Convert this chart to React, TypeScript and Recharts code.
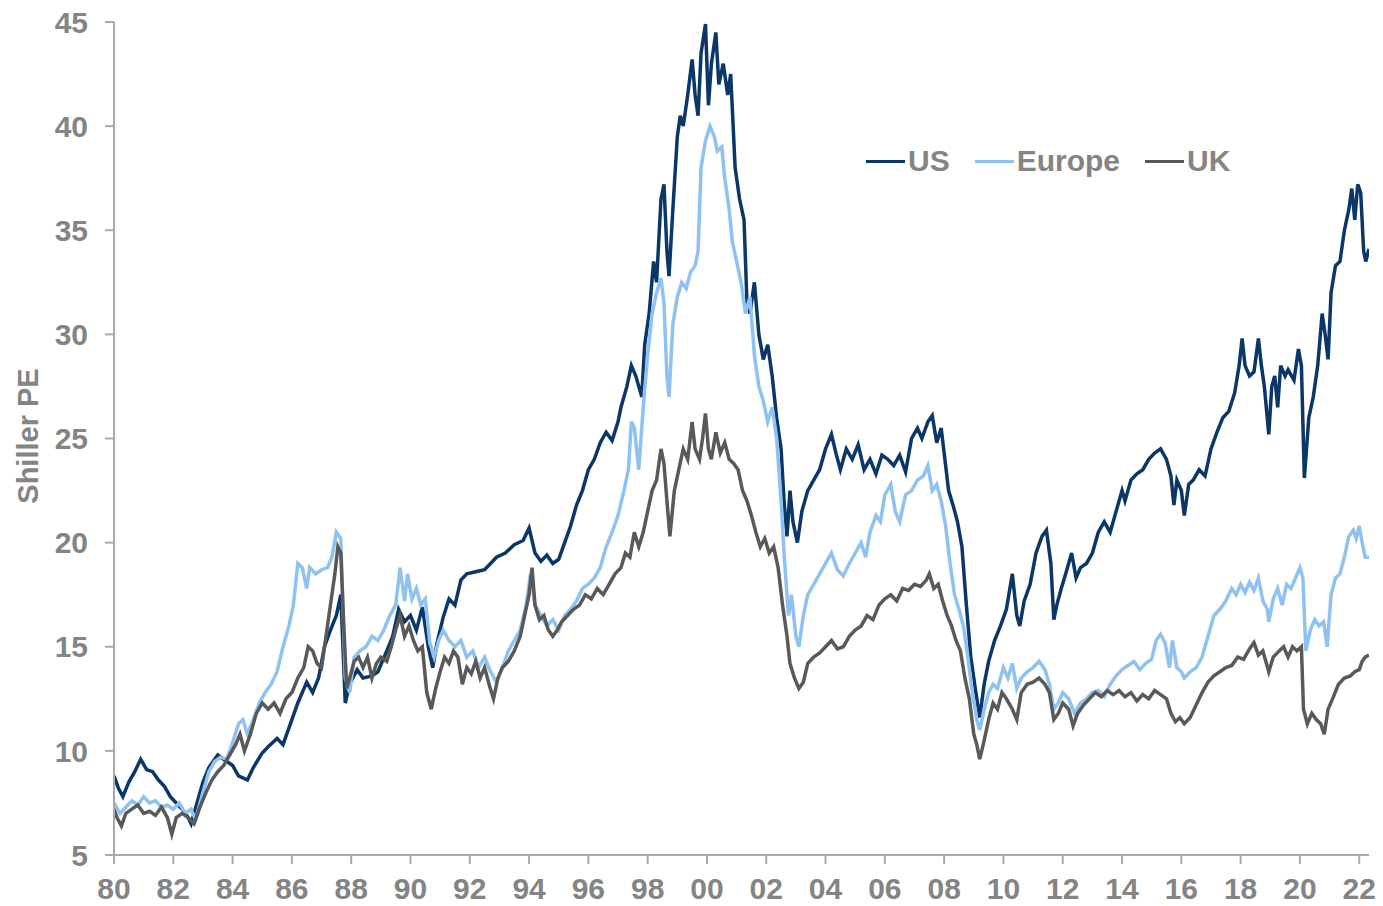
import { LineChart, Line, XAxis, YAxis, Legend } from 'recharts'

// Shiller PE, year (fractional) / value
const US: [number, number][] = [
  [1980.0, 8.8], [1980.15, 8.2], [1980.3, 7.8], [1980.5, 8.5], [1980.7, 9.0], [1980.9, 9.6], [1981.1, 9.1], [1981.3, 9.0],
  [1981.5, 8.6], [1981.7, 8.3], [1981.9, 7.8], [1982.1, 7.5], [1982.3, 7.2], [1982.5, 6.8], [1982.6, 6.5], [1982.8, 7.5],
  [1983.0, 8.5], [1983.2, 9.2], [1983.5, 9.8], [1983.7, 9.6], [1984.0, 9.3], [1984.2, 8.8], [1984.5, 8.6], [1984.7, 9.2],
  [1985.0, 9.9], [1985.2, 10.2], [1985.5, 10.6], [1985.7, 10.3], [1986.0, 11.5], [1986.2, 12.3], [1986.5, 13.3], [1986.7, 12.8],
  [1986.9, 13.5], [1987.1, 15.0], [1987.3, 15.8], [1987.5, 16.5], [1987.65, 17.5], [1987.8, 12.3], [1987.95, 13.2], [1988.2, 13.9],
  [1988.4, 13.5], [1988.7, 13.6], [1988.9, 13.8], [1989.2, 14.8], [1989.4, 15.5], [1989.6, 16.8], [1989.8, 16.2], [1990.0, 16.5],
  [1990.2, 15.8], [1990.4, 16.9], [1990.6, 15.0], [1990.75, 14.0], [1990.9, 15.2], [1991.1, 16.4], [1991.3, 17.3], [1991.5, 17.0],
  [1991.7, 18.2], [1991.9, 18.5], [1992.2, 18.6], [1992.5, 18.7], [1992.7, 19.0], [1992.9, 19.3], [1993.2, 19.5], [1993.5, 19.9],
  [1993.8, 20.1], [1994.0, 20.7], [1994.2, 19.5], [1994.4, 19.1], [1994.6, 19.4], [1994.8, 19.0], [1995.0, 19.2], [1995.2, 20.0],
  [1995.4, 20.8], [1995.6, 21.8], [1995.8, 22.5], [1996.0, 23.5], [1996.2, 24.0], [1996.4, 24.8], [1996.6, 25.3], [1996.8, 24.9],
  [1997.0, 25.8], [1997.1, 26.5], [1997.3, 27.5], [1997.45, 28.5], [1997.6, 28.0], [1997.8, 27.0], [1997.9, 29.5], [1998.05, 31.0],
  [1998.2, 33.5], [1998.3, 32.5], [1998.45, 36.5], [1998.55, 37.2], [1998.65, 34.0], [1998.72, 32.8], [1998.85, 36.0], [1999.0, 39.5],
  [1999.1, 40.5], [1999.2, 40.0], [1999.35, 41.5], [1999.5, 43.2], [1999.6, 41.5], [1999.7, 40.5], [1999.8, 43.5], [1999.95, 44.9],
  [2000.05, 41.0], [2000.15, 43.0], [2000.3, 44.5], [2000.4, 42.0], [2000.55, 43.0], [2000.7, 41.5], [2000.8, 42.5], [2000.95, 38.0],
  [2001.1, 36.5], [2001.25, 35.5], [2001.35, 31.5], [2001.45, 31.0], [2001.6, 32.5], [2001.75, 30.0], [2001.9, 28.8], [2002.05, 29.5],
  [2002.2, 28.0], [2002.35, 26.0], [2002.5, 24.5], [2002.6, 22.0], [2002.7, 20.3], [2002.8, 22.5], [2002.9, 21.0], [2003.05, 20.0],
  [2003.2, 21.5], [2003.4, 22.5], [2003.6, 23.0], [2003.8, 23.5], [2004.0, 24.5], [2004.2, 25.2], [2004.35, 24.3], [2004.5, 23.5],
  [2004.7, 24.5], [2004.9, 24.0], [2005.1, 24.7], [2005.3, 23.5], [2005.5, 24.0], [2005.7, 23.3], [2005.9, 24.2], [2006.1, 24.0],
  [2006.3, 23.7], [2006.5, 24.2], [2006.7, 23.4], [2006.9, 25.0], [2007.1, 25.5], [2007.25, 25.0], [2007.45, 25.8], [2007.6, 26.1],
  [2007.75, 24.8], [2007.9, 25.5], [2008.0, 24.3], [2008.15, 22.5], [2008.3, 21.8], [2008.45, 21.0], [2008.6, 19.8], [2008.75, 17.0],
  [2008.9, 14.5], [2009.05, 13.0], [2009.2, 11.6], [2009.35, 13.2], [2009.5, 14.3], [2009.7, 15.3], [2009.9, 16.0], [2010.1, 16.8],
  [2010.3, 18.5], [2010.45, 16.5], [2010.55, 16.0], [2010.7, 17.2], [2010.9, 18.0], [2011.1, 19.5], [2011.3, 20.3], [2011.45, 20.6],
  [2011.6, 19.0], [2011.7, 16.3], [2011.8, 17.0], [2011.95, 17.8], [2012.1, 18.5], [2012.3, 19.5], [2012.45, 18.3], [2012.6, 18.8],
  [2012.8, 19.0], [2013.0, 19.5], [2013.2, 20.5], [2013.4, 21.0], [2013.6, 20.5], [2013.8, 21.5], [2014.0, 22.5], [2014.1, 22.0],
  [2014.3, 23.0], [2014.5, 23.3], [2014.7, 23.5], [2014.9, 24.0], [2015.1, 24.3], [2015.3, 24.5], [2015.5, 24.0], [2015.65, 23.2],
  [2015.75, 21.8], [2015.85, 23.0], [2016.0, 22.5], [2016.1, 21.3], [2016.25, 22.8], [2016.4, 23.0], [2016.6, 23.5], [2016.8, 23.2],
  [2017.0, 24.5], [2017.2, 25.3], [2017.4, 26.0], [2017.6, 26.3], [2017.8, 27.2], [2017.95, 28.5], [2018.05, 29.8], [2018.15, 28.5],
  [2018.3, 28.0], [2018.45, 28.2], [2018.6, 29.8], [2018.7, 28.5], [2018.8, 27.5], [2018.95, 25.2], [2019.05, 27.5], [2019.15, 28.0],
  [2019.25, 26.5], [2019.35, 28.5], [2019.5, 28.0], [2019.6, 28.3], [2019.8, 27.8], [2019.95, 29.3], [2020.05, 28.5], [2020.15, 23.1],
  [2020.3, 26.0], [2020.45, 27.0], [2020.6, 28.5], [2020.75, 31.0], [2020.85, 30.0], [2020.95, 28.8], [2021.05, 32.0], [2021.2, 33.3],
  [2021.35, 33.5], [2021.5, 35.0], [2021.65, 36.0], [2021.75, 37.0], [2021.85, 35.5], [2021.95, 37.2], [2022.05, 36.8], [2022.15, 34.0],
  [2022.22, 33.5], [2022.33, 34.1],
]

const EUROPE: [number, number][] = [
  [1980.0, 7.5], [1980.2, 7.0], [1980.4, 7.3], [1980.6, 7.6], [1980.8, 7.4], [1981.0, 7.8], [1981.2, 7.5], [1981.4, 7.6],
  [1981.6, 7.3], [1981.8, 7.4], [1982.0, 7.2], [1982.2, 7.5], [1982.4, 7.0], [1982.6, 7.2], [1982.75, 6.7], [1983.0, 8.0],
  [1983.2, 9.0], [1983.4, 9.5], [1983.6, 9.7], [1983.8, 9.6], [1984.0, 10.4], [1984.2, 11.3], [1984.35, 11.5], [1984.5, 10.8],
  [1984.7, 11.5], [1984.9, 12.3], [1985.1, 12.8], [1985.3, 13.2], [1985.5, 13.8], [1985.7, 15.0], [1985.9, 16.0], [1986.05, 17.0],
  [1986.2, 19.0], [1986.35, 18.8], [1986.5, 17.8], [1986.6, 18.8], [1986.8, 18.5], [1987.0, 18.7], [1987.2, 18.8], [1987.35, 19.3],
  [1987.5, 20.5], [1987.65, 20.2], [1987.8, 13.5], [1987.95, 12.8], [1988.1, 14.5], [1988.3, 14.8], [1988.5, 15.0], [1988.7, 15.5],
  [1988.9, 15.3], [1989.1, 15.8], [1989.3, 16.5], [1989.5, 17.0], [1989.65, 18.8], [1989.8, 17.2], [1989.9, 18.5], [1990.05, 17.3],
  [1990.2, 17.8], [1990.35, 17.0], [1990.5, 17.3], [1990.65, 15.2], [1990.8, 14.5], [1990.95, 15.3], [1991.1, 15.8], [1991.3, 15.3],
  [1991.5, 15.0], [1991.7, 15.3], [1991.9, 14.5], [1992.1, 14.8], [1992.3, 14.0], [1992.5, 14.5], [1992.7, 13.8], [1992.9, 13.3],
  [1993.1, 14.0], [1993.3, 14.8], [1993.5, 15.3], [1993.7, 15.8], [1993.9, 17.0], [1994.05, 18.5], [1994.2, 17.0], [1994.4, 16.5],
  [1994.6, 16.0], [1994.8, 16.3], [1995.0, 15.8], [1995.2, 16.5], [1995.4, 16.8], [1995.6, 17.2], [1995.8, 17.8], [1996.0, 18.0],
  [1996.2, 18.3], [1996.4, 18.8], [1996.6, 19.8], [1996.8, 20.5], [1997.0, 21.3], [1997.2, 22.5], [1997.35, 23.5], [1997.45, 25.8],
  [1997.55, 25.5], [1997.7, 23.5], [1997.85, 26.5], [1998.0, 29.0], [1998.15, 31.0], [1998.3, 32.0], [1998.45, 32.7], [1998.55, 31.5],
  [1998.65, 28.0], [1998.72, 27.0], [1998.85, 30.5], [1999.0, 31.8], [1999.15, 32.5], [1999.3, 32.2], [1999.45, 33.0], [1999.6, 33.3],
  [1999.7, 34.0], [1999.8, 38.0], [1999.95, 39.3], [2000.1, 40.0], [2000.25, 39.5], [2000.35, 38.8], [2000.5, 39.0], [2000.6, 37.5],
  [2000.75, 36.0], [2000.85, 34.5], [2001.0, 33.5], [2001.15, 32.5], [2001.3, 31.0], [2001.45, 31.8], [2001.6, 29.0], [2001.75, 27.5],
  [2001.9, 26.8], [2002.05, 25.8], [2002.2, 26.5], [2002.35, 25.0], [2002.5, 22.0], [2002.6, 19.5], [2002.75, 16.5], [2002.85, 17.5],
  [2003.0, 15.5], [2003.1, 15.0], [2003.25, 16.5], [2003.4, 17.5], [2003.6, 18.0], [2003.8, 18.5], [2004.0, 19.0], [2004.2, 19.5],
  [2004.4, 18.7], [2004.6, 18.4], [2004.8, 19.0], [2005.0, 19.5], [2005.2, 20.0], [2005.35, 19.3], [2005.5, 20.5], [2005.7, 21.3],
  [2005.85, 21.0], [2006.0, 22.3], [2006.2, 22.8], [2006.35, 21.5], [2006.5, 21.0], [2006.7, 22.3], [2006.9, 22.5], [2007.1, 23.0],
  [2007.3, 23.2], [2007.45, 23.7], [2007.6, 22.5], [2007.75, 22.8], [2007.9, 22.0], [2008.05, 20.8], [2008.2, 19.0], [2008.35, 17.5],
  [2008.5, 16.8], [2008.65, 16.0], [2008.8, 14.5], [2008.95, 12.8], [2009.1, 11.5], [2009.2, 11.0], [2009.35, 12.0], [2009.5, 12.8],
  [2009.65, 13.2], [2009.8, 13.0], [2010.0, 14.0], [2010.15, 13.5], [2010.3, 14.2], [2010.45, 13.0], [2010.6, 13.5], [2010.8, 13.8],
  [2011.0, 14.0], [2011.2, 14.3], [2011.4, 13.9], [2011.55, 13.2], [2011.7, 12.0], [2011.85, 12.3], [2012.0, 12.8], [2012.2, 12.5],
  [2012.4, 11.8], [2012.6, 12.3], [2012.8, 12.5], [2013.0, 12.8], [2013.2, 12.9], [2013.4, 12.6], [2013.6, 13.2], [2013.8, 13.6],
  [2014.0, 13.9], [2014.2, 14.1], [2014.4, 14.3], [2014.6, 13.9], [2014.8, 14.2], [2015.0, 14.4], [2015.15, 15.3], [2015.3, 15.6],
  [2015.45, 15.2], [2015.6, 14.0], [2015.7, 15.3], [2015.85, 14.0], [2016.0, 13.8], [2016.1, 13.5], [2016.3, 13.8], [2016.5, 14.0],
  [2016.7, 14.5], [2016.9, 15.5], [2017.1, 16.5], [2017.3, 16.8], [2017.5, 17.2], [2017.7, 17.8], [2017.85, 17.5], [2018.0, 18.0],
  [2018.15, 17.6], [2018.3, 18.1], [2018.45, 17.7], [2018.6, 18.3], [2018.75, 17.2], [2018.9, 16.8], [2018.95, 16.2], [2019.1, 17.3],
  [2019.25, 17.8], [2019.4, 17.0], [2019.55, 18.0], [2019.7, 17.8], [2019.85, 18.3], [2020.0, 18.8], [2020.1, 18.3], [2020.2, 14.8],
  [2020.35, 15.8], [2020.5, 16.3], [2020.65, 16.0], [2020.8, 16.2], [2020.92, 15.0], [2021.05, 17.5], [2021.2, 18.3], [2021.35, 18.5],
  [2021.5, 19.3], [2021.65, 20.3], [2021.8, 20.6], [2021.9, 20.2], [2022.0, 20.8], [2022.1, 20.0], [2022.2, 19.3], [2022.33, 19.3],
]

const UK: [number, number][] = [
  [1980.0, 7.2], [1980.1, 6.8], [1980.25, 6.4], [1980.4, 7.0], [1980.6, 7.2], [1980.8, 7.4], [1981.0, 7.0], [1981.2, 7.1],
  [1981.4, 6.9], [1981.6, 7.3], [1981.8, 6.8], [1981.95, 6.0], [1982.1, 6.8], [1982.3, 7.0], [1982.5, 6.8], [1982.7, 6.5],
  [1982.9, 7.3], [1983.1, 8.0], [1983.3, 8.6], [1983.5, 9.0], [1983.7, 9.3], [1983.9, 9.8], [1984.1, 10.3], [1984.25, 10.8],
  [1984.4, 10.0], [1984.6, 10.8], [1984.8, 11.8], [1985.0, 12.3], [1985.2, 12.0], [1985.4, 12.3], [1985.6, 11.8], [1985.8, 12.5],
  [1986.0, 12.8], [1986.2, 13.5], [1986.4, 14.0], [1986.55, 15.0], [1986.7, 14.8], [1986.85, 14.2], [1987.0, 14.0], [1987.15, 15.5],
  [1987.3, 17.0], [1987.45, 18.5], [1987.55, 19.8], [1987.65, 19.5], [1987.75, 16.0], [1987.85, 13.0], [1987.95, 13.5], [1988.1, 14.3],
  [1988.25, 14.5], [1988.4, 14.0], [1988.55, 14.5], [1988.7, 13.5], [1988.85, 14.2], [1989.0, 14.5], [1989.2, 14.3], [1989.35, 15.0],
  [1989.5, 15.8], [1989.65, 16.5], [1989.8, 15.5], [1989.95, 16.0], [1990.1, 15.3], [1990.25, 14.8], [1990.4, 15.0], [1990.55, 12.8],
  [1990.7, 12.0], [1990.85, 13.0], [1991.0, 13.8], [1991.15, 14.5], [1991.3, 14.2], [1991.45, 14.8], [1991.6, 14.5], [1991.75, 13.2],
  [1991.9, 14.0], [1992.05, 13.7], [1992.2, 14.3], [1992.35, 13.5], [1992.5, 14.0], [1992.65, 13.2], [1992.8, 12.5], [1992.95, 13.5],
  [1993.1, 14.0], [1993.3, 14.3], [1993.5, 14.8], [1993.7, 15.5], [1993.85, 16.5], [1994.0, 17.5], [1994.1, 18.8], [1994.2, 17.0],
  [1994.35, 16.3], [1994.5, 16.5], [1994.65, 15.8], [1994.8, 15.5], [1994.95, 15.8], [1995.1, 16.2], [1995.3, 16.5], [1995.5, 16.8],
  [1995.7, 17.0], [1995.9, 17.5], [1996.1, 17.3], [1996.3, 17.8], [1996.5, 17.5], [1996.7, 18.0], [1996.9, 18.5], [1997.1, 18.8],
  [1997.25, 19.5], [1997.4, 19.3], [1997.55, 20.5], [1997.7, 19.8], [1997.85, 20.5], [1998.0, 21.5], [1998.15, 22.5], [1998.3, 23.0],
  [1998.45, 24.5], [1998.55, 23.8], [1998.65, 22.0], [1998.75, 20.3], [1998.9, 22.5], [1999.05, 23.5], [1999.2, 24.5], [1999.35, 24.0],
  [1999.5, 25.8], [1999.6, 24.5], [1999.75, 24.0], [1999.85, 25.0], [1999.95, 26.2], [2000.05, 24.5], [2000.15, 24.0], [2000.3, 25.3],
  [2000.45, 24.3], [2000.6, 24.8], [2000.75, 24.0], [2000.9, 23.8], [2001.05, 23.5], [2001.2, 22.5], [2001.35, 22.0], [2001.5, 21.3],
  [2001.65, 20.5], [2001.8, 19.8], [2001.95, 20.2], [2002.1, 19.5], [2002.25, 19.8], [2002.4, 18.8], [2002.55, 17.0], [2002.7, 15.5],
  [2002.8, 14.2], [2002.95, 13.5], [2003.1, 13.0], [2003.25, 13.3], [2003.4, 14.2], [2003.6, 14.5], [2003.8, 14.7], [2004.0, 15.0],
  [2004.2, 15.3], [2004.4, 14.9], [2004.6, 15.0], [2004.8, 15.5], [2005.0, 15.8], [2005.2, 16.0], [2005.4, 16.5], [2005.6, 16.3],
  [2005.8, 17.0], [2006.0, 17.3], [2006.2, 17.5], [2006.4, 17.2], [2006.6, 17.8], [2006.8, 17.7], [2007.0, 18.0], [2007.2, 17.9],
  [2007.4, 18.2], [2007.5, 18.5], [2007.65, 17.8], [2007.8, 18.0], [2007.95, 17.2], [2008.1, 16.5], [2008.25, 16.0], [2008.4, 15.3],
  [2008.55, 14.8], [2008.7, 13.5], [2008.85, 12.5], [2009.0, 10.8], [2009.1, 10.3], [2009.2, 9.6], [2009.35, 10.5], [2009.5, 11.5],
  [2009.65, 12.3], [2009.8, 12.0], [2009.95, 12.8], [2010.1, 12.5], [2010.3, 12.0], [2010.45, 11.5], [2010.6, 12.8], [2010.8, 13.2],
  [2011.0, 13.3], [2011.2, 13.5], [2011.4, 13.2], [2011.55, 12.8], [2011.7, 11.5], [2011.85, 11.8], [2012.0, 12.3], [2012.2, 12.0],
  [2012.35, 11.2], [2012.5, 11.8], [2012.7, 12.2], [2012.9, 12.5], [2013.1, 12.8], [2013.3, 12.6], [2013.5, 12.9], [2013.7, 12.7],
  [2013.9, 12.9], [2014.1, 12.6], [2014.3, 12.8], [2014.5, 12.4], [2014.7, 12.7], [2014.9, 12.5], [2015.1, 12.9], [2015.3, 12.7],
  [2015.5, 12.5], [2015.65, 11.8], [2015.8, 11.4], [2015.95, 11.6], [2016.1, 11.3], [2016.3, 11.6], [2016.5, 12.2], [2016.7, 12.8],
  [2016.9, 13.3], [2017.1, 13.6], [2017.3, 13.8], [2017.5, 14.0], [2017.7, 14.1], [2017.9, 14.5], [2018.1, 14.4], [2018.3, 14.9],
  [2018.45, 15.2], [2018.6, 14.6], [2018.75, 14.8], [2018.95, 13.8], [2019.1, 14.5], [2019.3, 14.8], [2019.45, 15.0], [2019.6, 14.5],
  [2019.75, 15.0], [2019.9, 14.8], [2020.05, 15.0], [2020.12, 12.0], [2020.25, 11.3], [2020.4, 11.8], [2020.55, 11.5], [2020.7, 11.3],
  [2020.82, 10.8], [2020.95, 12.0], [2021.1, 12.5], [2021.3, 13.2], [2021.5, 13.5], [2021.7, 13.6], [2021.85, 13.8], [2022.0, 13.9],
  [2022.1, 14.3], [2022.2, 14.5], [2022.33, 14.6],
]

const xTicks = [1980, 1982, 1984, 1986, 1988, 1990, 1992, 1994, 1996, 1998, 2000, 2002, 2004, 2006, 2008, 2010, 2012, 2014, 2016, 2018, 2020, 2022]
const yTicks = [5, 10, 15, 20, 25, 30, 35, 40, 45]

const series = [
  { name: 'US', points: US, color: '#0b3768' },
  { name: 'Europe', points: EUROPE, color: '#8fc2f0' },
  { name: 'UK', points: UK, color: '#595959' },
]

const FONT = '"Liberation Sans", Arial, sans-serif'
const GREY_TEXT = '#848484'
const AXIS = '#a9a9a9'

const toRows = (pts: [number, number][]) => pts.map(([t, v]) => ({ t, v }))

function LegendBox() {
  return (
    <div style={{ display: 'flex', alignItems: 'center', fontFamily: FONT, fontSize: 30, fontWeight: 'bold', color: GREY_TEXT, lineHeight: '34px' }}>
      {series.map((s) => (
        <div key={s.name} style={{ display: 'flex', alignItems: 'center', marginRight: 25 }}>
          <span style={{ display: 'inline-block', width: 39, height: 3, background: s.color, marginRight: 3 }} />
          <span>{s.name}</span>
        </div>
      ))}
    </div>
  )
}

function YLabel() {
  return (
    <text
      x={28}
      y={436}
      transform="rotate(-90, 28, 436)"
      textAnchor="middle"
      dominantBaseline="central"
      fill={GREY_TEXT}
      fontFamily={FONT}
      fontSize={29}
      fontWeight="bold"
    >
      Shiller PE
    </text>
  )
}

export default function App() {
  return (
    <div style={{ position: 'absolute', left: 0, top: 0, background: '#fff' }}>
      <LineChart width={1383} height={906} margin={{ top: 22, right: 14, bottom: 0, left: 0 }}>
        <XAxis
          dataKey="t"
          type="number"
          domain={[1980, 2022.33]}
          ticks={xTicks}
          allowDataOverflow
          interval={0}
          height={51}
          tickFormatter={(v: number) => String(v % 100).padStart(2, '0')}
          stroke={AXIS}
          strokeWidth={2}
          tickSize={9}
          tickMargin={14}
          tick={{ fill: GREY_TEXT, fontSize: 30, fontWeight: 'bold', fontFamily: FONT }}
        />
        <YAxis
          type="number"
          domain={[5, 45]}
          ticks={yTicks}
          interval={0}
          width={114}
          stroke={AXIS}
          strokeWidth={2}
          tickSize={9}
          tickMargin={17}
          tick={{ fill: GREY_TEXT, fontSize: 30, fontWeight: 'bold', fontFamily: FONT }}
          label={{ content: () => <YLabel /> }}
        />
        <Legend
          verticalAlign="middle"
          align="center"
          layout="horizontal"
          content={() => <LegendBox />}
          wrapperStyle={{ position: 'absolute', top: 144, left: 866, width: 420 }}
        />
        {series.map((s) => (
          <Line
            key={s.name}
            data={toRows(s.points)}
            dataKey="v"
            name={s.name}
            type="linear"
            stroke={s.color}
            strokeWidth={3.5}
            dot={false}
            activeDot={false}
            isAnimationActive={false}
          />
        ))}
      </LineChart>
    </div>
  )
}
